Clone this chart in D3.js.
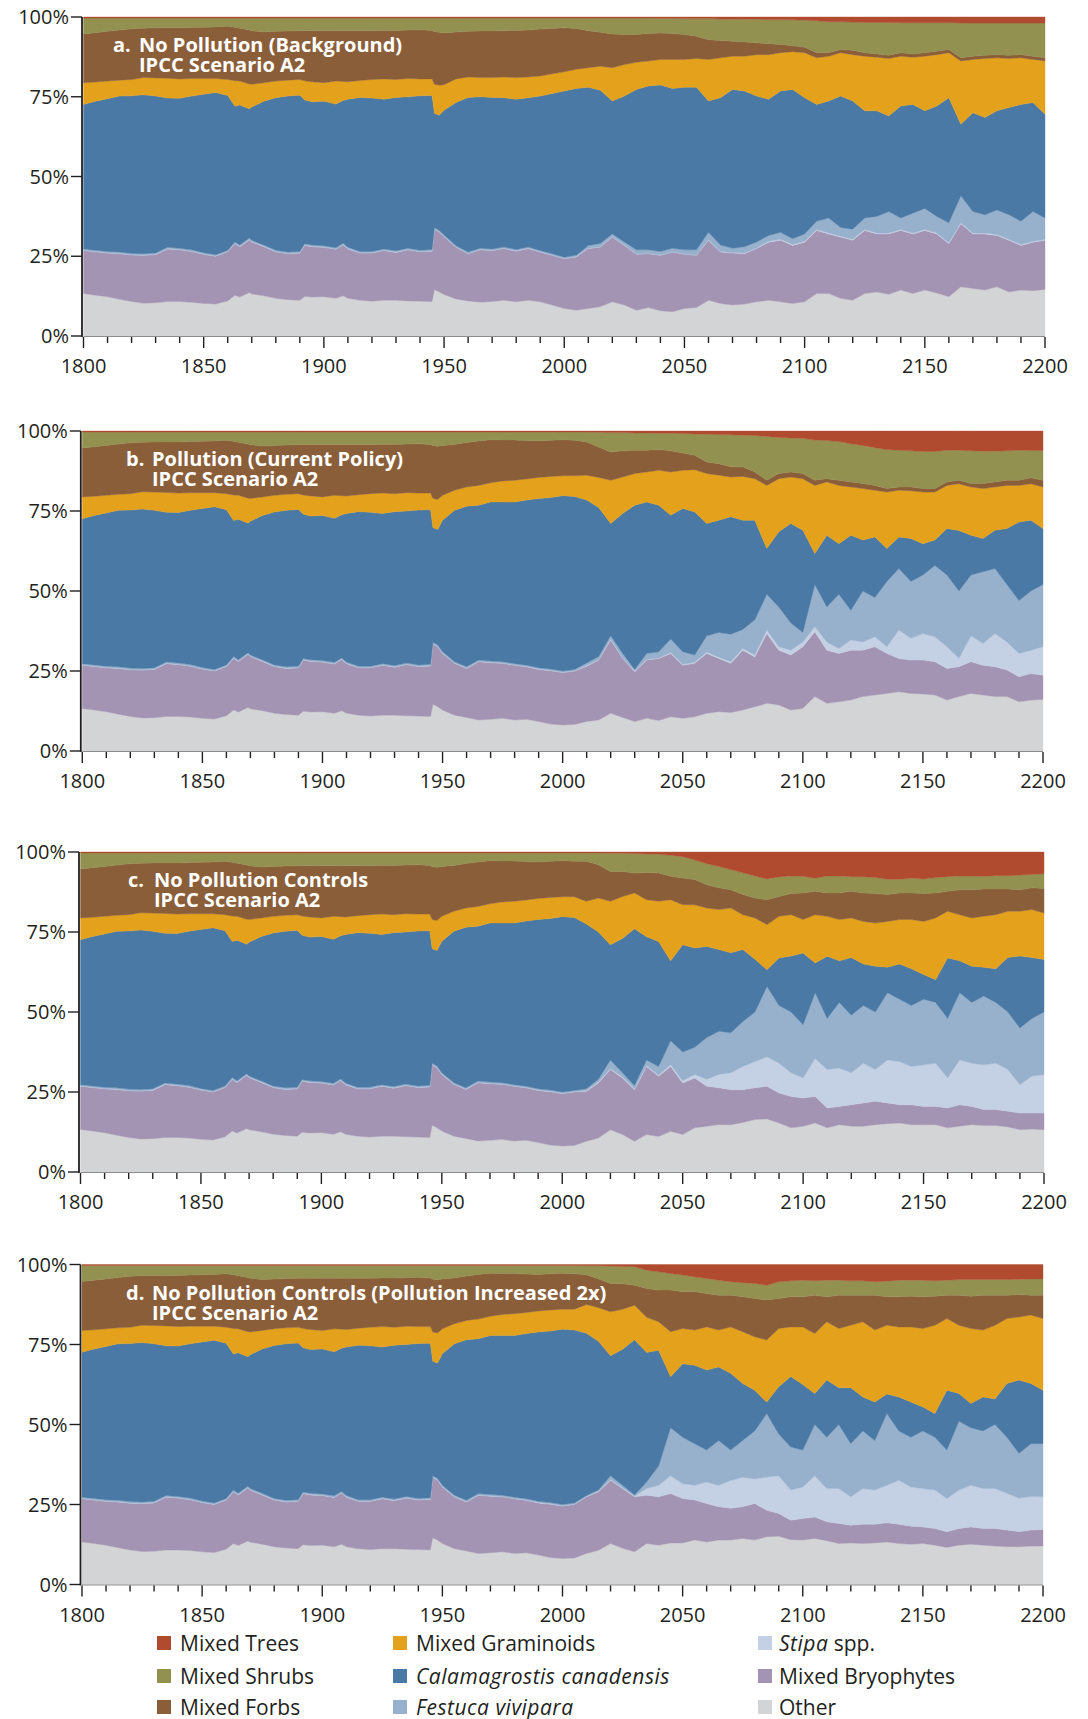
<!DOCTYPE html>
<html><head><meta charset="utf-8">
<script src="https://cdn.jsdelivr.net/npm/d3@7"></script>
<style>
body{margin:0;background:#fff}
svg{display:block}
text{font-family:"Open Sans",sans-serif;fill:#231f20}
</style>
</head><body>
<svg id="chart" width="1088" height="1719"></svg>
<script>
// ---------- series (bottom to top of the stack) ----------
const seriesKeys = ["Other","Mixed Bryophytes","Stipa spp.","Festuca vivipara","Calamagrostis canadensis","Mixed Graminoids","Mixed Forbs","Mixed Shrubs","Mixed Trees"];
const seriesColors = ["#d3d4d6","#a394b4","#c4d0e3","#97b1cd","#4a79a5","#e3a11c","#8b5e3a","#939150","#b04b30"];

// values are cumulative upper edges (%) of each layer; Mixed Trees fills up to 100%
// ---------- shared history 1800-1948 (all panels) ----------
const histYears = [1800,1805,1810,1815,1820,1825,1830,1835,1840,1845,1850,1855,1860,1863,1865,1869,1870,1875,1880,1885,1890,1892,1895,1900,1905,1908,1910,1915,1920,1925,1930,1935,1940,1945,1946,1948];
const histOther = [13.3,12.8,12.3,11.5,10.8,10.3,10.4,10.8,10.8,10.6,10.2,10.0,11.0,12.8,12.2,13.6,13.2,12.6,11.8,11.4,11.2,12.4,12.2,12.3,11.8,12.6,11.8,11.2,10.9,11.2,11.2,11.0,10.9,10.8,14.6,13.8];
const histBryo = [26.8,26.4,26.0,25.8,25.4,25.3,25.5,27.3,27.0,26.5,25.6,25.0,26.4,29.0,28.0,30.2,29.5,28.0,26.4,25.8,26.0,28.4,28.0,27.8,27.2,28.6,27.3,26.0,26.0,26.8,26.2,27.0,26.4,26.6,33.5,32.6];
const histStipa = [26.9,26.5,26.1,25.9,25.5,25.4,25.6,27.4,27.1,26.6,25.7,25.1,26.5,29.1,28.1,30.3,29.6,28.1,26.5,25.9,26.1,28.5,28.1,27.9,27.3,28.7,27.4,26.1,26.1,26.9,26.3,27.1,26.5,26.7,33.6,32.7];
const histFest = [27.3,26.9,26.5,26.3,25.9,25.8,26.0,27.8,27.5,27.0,26.1,25.5,26.9,29.5,28.5,30.7,30.0,28.5,26.9,26.3,26.5,28.9,28.5,28.3,27.7,29.1,27.8,26.5,26.5,27.3,26.7,27.5,26.9,27.1,34.0,33.1];
const histCalam = [72.6,73.6,74.4,75.2,75.3,75.6,75.2,74.6,74.5,75.2,75.8,76.3,75.4,72.0,72.4,71.2,71.8,73.6,74.7,75.2,75.5,74.0,73.4,73.6,72.7,73.8,74.2,74.8,74.6,74.2,74.8,75.0,75.3,75.4,69.8,69.2];
const histGram = [79.4,79.6,79.9,80.2,80.4,81.0,80.9,80.8,80.6,80.7,80.7,80.7,80.4,80.0,79.9,79.0,78.9,79.4,79.9,80.2,80.4,80.0,79.7,79.4,79.9,79.8,79.7,80.1,80.4,80.6,80.4,80.7,80.6,80.6,78.9,78.6];
const histForbs = [94.7,95.1,95.5,95.9,96.3,96.5,96.6,96.6,96.6,96.7,96.8,96.9,97.1,96.8,96.5,95.9,95.7,95.3,95.5,95.6,95.7,95.7,95.7,95.7,95.7,95.7,95.7,95.7,95.7,95.8,95.8,95.9,96.0,95.8,95.4,95.2];
const histShrubs = [99.7,99.7,99.7,99.7,99.7,99.7,99.7,99.7,99.7,99.7,99.7,99.7,99.7,99.7,99.7,99.7,99.7,99.7,99.7,99.7,99.7,99.7,99.7,99.7,99.7,99.7,99.7,99.7,99.7,99.7,99.7,99.7,99.7,99.7,99.7,99.7];

// ---------- 1950-2200 ----------
const futYears = [1950,1955,1960,1965,1970,1975,1980,1985,1990,1995,2000,2005,2010,2015,2020,2025,2030,2035,2040,2045,2050,2055,2060,2065,2070,2075,2080,2085,2090,2095,2100,2105,2110,2115,2120,2125,2130,2135,2140,2145,2150,2155,2160,2165,2170,2175,2180,2185,2190,2195,2200];

// panel a (1950-2200)
const aOther = [13.0,11.6,11.0,10.6,10.8,11.2,10.7,11.2,10.7,9.7,8.6,8.1,8.6,9.2,10.7,9.7,8.1,8.9,7.9,7.6,8.6,8.9,11.2,10.2,9.7,10.0,10.7,11.2,10.7,10.2,10.7,13.3,13.3,11.8,11.2,13.3,13.8,13.1,14.4,13.3,14.4,13.5,12.3,15.4,14.9,14.4,15.4,13.8,14.4,14.2,14.6];
const aBryo = [31.2,27.8,25.8,27.0,26.8,27.4,26.6,27.4,26.3,25.3,24.2,24.8,27.4,27.9,31.0,28.4,25.6,25.8,25.3,26.3,25.6,25.3,30.0,26.3,26.0,25.8,27.4,29.4,30.0,28.4,29.4,33.1,32.0,31.0,30.0,33.1,32.0,32.0,33.1,32.0,33.1,32.0,28.9,35.2,32.0,32.0,31.5,30.0,28.4,29.4,30.0];
const aStipa = [31.3,27.9,25.9,27.1,26.9,27.5,26.7,27.5,26.4,25.4,24.3,24.9,27.5,28.0,31.1,28.5,25.7,25.9,25.4,26.4,25.7,25.4,30.2,26.5,26.2,26.0,27.6,29.7,30.3,28.7,29.7,33.4,32.3,31.3,30.3,33.4,32.3,32.3,33.4,32.3,33.4,32.3,29.2,35.5,32.3,32.3,31.8,30.3,28.7,29.7,30.3];
const aFest = [31.7,28.3,26.3,27.5,27.3,27.9,27.1,27.9,26.8,25.8,24.7,25.3,28.4,29.0,32.0,29.5,27.0,27.0,26.5,27.5,27.0,27.0,32.5,28.5,27.5,28.0,29.5,31.5,32.5,30.5,32.0,36.0,37.0,34.0,33.5,37.0,37.5,39.0,37.0,38.5,40.0,37.5,35.5,44.0,39.0,38.0,39.5,38.0,36.0,39.0,37.0];
const aCalam = [70.8,73.2,74.8,75.0,74.8,74.7,74.2,74.7,75.2,76.0,76.8,77.6,78.0,77.0,73.7,75.2,77.3,78.4,78.7,77.6,78.0,78.0,73.7,74.7,77.3,76.8,75.2,74.2,76.8,77.3,74.7,72.6,73.7,75.2,73.7,70.6,70.6,69.0,72.1,72.6,70.6,72.1,74.7,66.4,70.0,68.5,70.6,71.6,72.6,73.2,69.5];
const aGram = [78.8,80.6,81.2,81.0,81.0,81.2,81.0,81.2,81.5,82.2,82.8,83.6,84.1,84.6,84.1,85.1,85.8,86.2,86.7,86.7,86.7,87.0,86.7,87.2,87.7,87.7,88.2,88.2,88.8,89.1,88.8,87.2,87.7,88.8,88.2,87.7,87.4,87.0,87.7,87.4,87.7,88.2,88.8,86.2,86.7,87.0,87.2,87.0,87.2,86.7,86.2];
const aForbs = [95.0,95.3,95.5,95.6,95.6,95.7,95.8,95.9,96.2,96.4,96.6,96.4,95.7,95.2,94.7,94.5,94.5,94.8,95.0,94.8,94.5,94.0,92.9,92.6,92.4,92.2,91.9,91.6,91.4,91.0,90.5,88.8,88.8,89.8,89.6,88.8,88.4,88.0,88.8,88.4,88.8,89.3,89.8,87.2,87.7,88.0,88.2,88.0,88.2,87.7,87.2];
const aShrubs = [99.7,99.7,99.7,99.7,99.7,99.7,99.7,99.7,99.7,99.7,99.7,99.7,99.7,99.7,99.7,99.7,99.7,99.7,99.6,99.6,99.5,99.5,99.5,99.4,99.4,99.3,99.3,99.2,99.2,99.1,99.0,98.8,98.5,98.5,98.4,98.3,98.3,98.3,98.2,98.2,98.2,98.2,98.2,98.1,98.1,98.1,98.1,98.1,98.1,98.1,98.1];

// panels b, c, d share 1950-2005
const bcdOther = [12.8,11.2,10.5,9.7,9.9,10.2,9.7,9.9,9.2,8.4,8.1,8.3];
const bcdBryo = [30.5,27.4,25.8,27.9,27.6,27.4,26.8,26.3,25.5,25.1,24.5,25.0];
const bcdStipa = [30.6,27.5,25.9,28.0,27.7,27.5,26.9,26.4,25.6,25.2,24.6,25.1];
const bcdFest = [31.0,27.9,26.3,28.4,28.1,27.9,27.3,26.8,26.0,25.6,25.0,25.5];
const bcdCalam = [72.1,75.2,76.5,76.8,77.8,77.8,77.8,78.4,78.9,79.2,79.8,79.5];
const bcdGram = [79.9,81.5,82.5,83.0,83.8,84.4,84.6,85.0,85.5,85.8,86.0,86.0];
const bcdForbs = [95.5,95.8,96.4,96.9,97.3,97.2,97.2,97.0,96.9,97.1,97.3,97.1];
const bcdShrubs = [99.7,99.7,99.7,99.7,99.7,99.7,99.7,99.7,99.7,99.7,99.7,99.7];

// panel b (2010-2200)
const bOther = [9.2,9.7,11.8,10.5,9.2,10.2,9.5,10.7,10.2,10.7,11.8,12.3,12.0,12.8,13.8,14.9,14.4,12.8,13.3,17.0,14.9,15.4,15.9,17.0,17.5,18.0,18.5,18.0,17.8,17.5,15.9,17.0,18.0,17.5,17.0,17.0,15.4,15.9,16.1];
const bBryo = [26.5,28.4,34.7,28.9,24.8,28.4,28.9,30.5,26.8,27.4,30.5,28.9,27.4,31.5,29.4,36.7,31.5,30.0,32.6,37.3,31.5,30.5,31.5,31.5,32.6,30.5,28.9,28.4,28.4,27.9,25.8,26.3,27.9,26.8,26.3,25.3,23.2,24.2,23.7];
const bStipa = [26.7,28.6,34.9,29.1,25.0,28.6,29.1,30.8,27.1,27.7,30.9,29.3,27.9,32.0,30.0,37.8,32.6,31.5,34.1,38.8,34.1,32.0,34.7,34.1,35.7,32.6,37.8,35.2,36.7,35.7,32.6,29.0,36.0,33.6,36.7,34.1,30.5,31.5,32.6];
const bFest = [27.5,29.5,36.0,30.5,25.5,30.5,31.0,35.0,31.0,30.0,36.0,37.0,36.5,38.0,41.0,49.0,45.0,40.0,37.0,52.0,45.0,49.0,44.0,50.0,48.0,53.0,57.0,53.0,55.0,58.0,55.0,50.0,55.0,56.0,57.0,52.0,47.0,50.0,52.0];
const bCalam = [78.4,76.1,71.1,74.2,76.8,77.8,76.8,73.7,75.8,74.7,71.1,72.1,73.2,72.1,72.1,63.3,68.5,71.1,69.0,61.7,67.4,64.8,67.4,65.9,66.9,63.3,66.9,66.4,64.8,65.9,69.5,68.9,67.4,66.4,69.0,69.5,71.6,72.1,69.5];
const bGram = [86.2,85.5,84.6,85.6,86.7,87.2,87.7,87.2,87.7,87.9,86.7,86.2,85.6,85.8,85.1,83.0,85.1,85.6,85.1,83.0,84.1,83.0,82.5,82.0,81.5,80.9,81.5,81.3,80.9,80.9,83.0,83.5,82.5,82.0,82.5,83.0,83.0,83.5,82.5];
const bForbs = [96.6,95.0,93.4,93.8,94.0,94.0,94.2,93.8,93.1,92.4,90.3,89.8,88.8,88.8,87.2,84.6,86.7,87.2,86.7,84.6,85.1,84.6,84.1,83.6,83.0,82.0,82.5,82.5,82.0,82.0,84.1,84.6,83.6,83.6,84.1,84.6,84.6,85.4,84.6];
const bShrubs = [99.7,99.6,99.5,99.5,99.4,99.4,99.3,99.3,99.2,99.1,99.0,98.9,98.8,98.7,98.6,98.3,98.0,97.8,97.7,97.2,97.0,96.7,96.0,95.5,94.8,94.2,94.0,93.8,93.6,93.6,94.0,94.0,93.8,93.7,93.7,93.8,94.0,93.9,93.9];

// panel c (2010-2200)
const cOther = [9.6,10.6,13.2,11.7,9.6,11.7,11.1,12.7,11.7,13.8,14.3,14.8,14.8,15.5,16.4,16.6,15.3,13.8,14.3,15.3,13.8,14.8,14.3,14.3,14.8,15.1,15.3,14.8,14.8,14.8,13.8,14.3,14.8,14.5,14.5,14.1,13.2,13.4,13.2];
const cBryo = [25.2,27.8,32.0,29.4,25.7,33.0,29.9,33.0,27.8,29.4,26.8,26.3,25.7,25.7,26.3,26.8,24.7,23.6,23.1,23.6,20.0,20.5,21.0,21.6,22.1,21.6,21.0,21.0,20.5,20.5,20.0,21.0,20.5,19.5,19.5,19.0,18.4,18.4,18.4];
const cStipa = [25.5,28.1,32.3,29.7,26.0,33.3,30.2,33.5,28.5,30.5,29.0,30.5,31.0,33.0,34.5,36.0,34.0,31.0,29.4,35.5,32.0,32.5,31.0,34.0,32.0,35.0,34.5,33.0,33.5,34.0,29.4,35.0,34.0,33.5,34.0,32.0,27.3,30.0,30.4];
const cFest = [26.0,29.0,35.0,31.0,27.0,35.0,33.0,41.0,37.5,39.0,42.0,44.0,43.5,47.0,50.0,58.0,52.0,50.0,46.0,56.0,48.0,53.0,49.0,52.0,50.0,56.0,54.0,52.0,54.0,53.0,48.0,56.0,53.0,55.0,53.0,50.0,45.0,48.0,50.0];
const cCalam = [77.5,75.0,71.0,73.0,76.0,73.5,72.0,66.0,71.0,70.0,70.5,69.5,68.5,69.5,66.5,63.2,66.9,67.5,68.4,65.3,67.4,66.0,67.0,65.0,64.3,64.0,65.0,63.5,61.7,60.1,66.9,66.0,64.3,64.0,63.5,67.0,67.5,67.0,66.4];
const cGram = [84.6,85.6,84.6,86.1,87.2,85.1,84.6,85.1,83.5,83.5,82.5,82.0,82.5,80.4,79.4,77.3,79.9,80.4,78.9,80.4,79.9,78.9,79.4,78.3,77.8,78.3,78.9,78.9,78.3,79.4,81.5,80.4,79.4,79.9,80.4,81.5,81.5,82.0,80.9];
const cForbs = [97.1,96.0,93.9,93.9,93.4,93.6,93.4,92.4,91.9,91.4,89.8,88.8,88.2,86.7,85.6,85.1,86.1,87.0,87.2,87.7,87.2,87.2,87.7,87.2,87.0,86.7,87.2,87.2,87.0,87.2,87.7,88.2,88.2,88.4,88.4,88.4,88.2,88.8,88.6];
const cShrubs = [99.7,99.7,99.6,99.6,99.5,99.4,99.3,99.0,98.5,97.5,96.3,95.5,94.5,93.5,92.5,91.6,92.2,92.5,92.4,91.8,92.5,92.5,92.3,92.3,92.0,91.5,91.5,91.8,91.6,92.0,92.3,92.5,92.5,92.4,92.6,92.6,92.8,93.0,93.2];

// panel d (2010-2200)
const dOther = [9.7,10.7,12.8,11.3,10.2,12.8,12.3,13.0,13.0,13.9,13.3,13.9,13.9,14.4,13.9,14.9,15.1,14.0,13.9,14.4,13.7,12.8,13.0,12.8,13.0,13.3,12.8,12.6,12.8,12.3,11.6,12.3,12.6,12.3,12.0,11.8,11.8,12.0,12.0];
const dBryo = [27.4,29.0,32.6,30.0,27.4,27.9,27.4,28.4,26.9,26.4,25.3,24.3,23.8,24.3,25.3,23.2,22.2,20.1,20.6,21.1,19.6,19.1,18.5,18.8,18.8,19.3,18.8,18.2,18.0,17.5,16.5,17.5,18.0,17.5,17.5,17.0,16.5,17.0,17.2];
const dStipa = [27.6,29.2,32.8,30.2,27.6,30.0,31.0,34.0,31.5,31.0,32.0,31.0,32.5,33.5,33.0,33.6,34.0,29.5,30.5,34.0,30.0,30.0,27.4,30.0,29.5,31.0,32.6,30.5,30.0,29.5,26.9,29.5,31.0,30.0,30.0,28.5,27.0,27.5,27.4];
const dFest = [27.8,29.5,34.0,31.0,28.0,32.0,37.0,49.0,46.0,44.0,42.0,45.0,42.0,45.0,48.0,53.4,47.0,43.0,42.0,50.0,46.0,50.0,44.0,48.0,45.0,53.4,48.0,46.0,48.0,46.0,42.0,51.0,49.0,48.0,50.0,46.0,41.0,44.0,44.0];
const dCalam = [78.5,76.0,71.5,73.5,76.5,72.5,73.2,64.9,69.0,68.5,67.0,68.0,66.0,62.8,60.7,57.0,61.8,65.0,62.5,59.7,63.9,61.5,61.5,58.6,57.0,59.5,58.6,57.0,55.5,53.4,60.7,59.7,56.6,58.6,58.0,62.8,63.9,62.8,60.7];
const dGram = [87.5,86.5,85.2,86.0,87.3,83.5,82.1,79.0,80.0,79.5,80.5,79.5,80.5,79.0,77.4,76.4,80.0,80.5,80.5,78.4,82.1,80.0,81.0,82.1,79.5,81.0,80.5,80.5,80.0,81.0,83.1,81.0,80.0,79.5,81.0,83.1,83.6,84.2,83.1];
const dForbs = [96.8,95.5,94.1,94.0,93.5,92.5,92.0,92.0,91.5,91.5,90.9,90.4,90.4,89.9,89.4,88.9,89.4,89.9,89.9,90.4,89.9,90.4,90.4,90.4,90.4,89.9,89.9,90.1,89.9,90.1,90.4,90.4,90.1,90.4,90.4,90.4,90.6,90.4,90.4];
const dShrubs = [99.6,99.6,99.5,99.4,99.3,98.2,97.7,97.2,96.7,96.2,95.6,95.1,94.6,94.3,94.1,93.5,94.6,94.9,95.1,94.9,95.1,95.1,94.9,94.9,94.6,94.8,95.1,95.1,95.1,94.9,95.1,95.3,95.3,95.3,95.3,95.3,95.4,95.5,95.5];

// ---------- labels ----------
const panelLetters = ["a.","b.","c.","d."];
const panelTitles = ["No Pollution (Background)","Pollution (Current Policy)","No Pollution Controls","No Pollution Controls (Pollution Increased 2x)"];
const panelSubtitle = "IPCC Scenario A2";
const yTickValues = [0,25,50,75,100];
const xMajorTicks = [1800,1850,1900,1950,2000,2050,2100,2150,2200];
const xMinorTicks = [1800,1810,1820,1830,1840,1850,1860,1870,1880,1890,1900,1910,1920,1930,1940,1950,1960,1970,1980,1990,2000,2010,2020,2030,2040,2050,2060,2070,2080,2090,2100,2110,2120,2130,2140,2150,2160,2170,2180,2190,2200];

// ---------- assemble ----------
const allYears = histYears.concat(futYears);
const panelTops = [
  [aOther,aBryo,aStipa,aFest,aCalam,aGram,aForbs,aShrubs],
  [bcdOther.concat(bOther),bcdBryo.concat(bBryo),bcdStipa.concat(bStipa),bcdFest.concat(bFest),bcdCalam.concat(bCalam),bcdGram.concat(bGram),bcdForbs.concat(bForbs),bcdShrubs.concat(bShrubs)],
  [bcdOther.concat(cOther),bcdBryo.concat(cBryo),bcdStipa.concat(cStipa),bcdFest.concat(cFest),bcdCalam.concat(cCalam),bcdGram.concat(cGram),bcdForbs.concat(cForbs),bcdShrubs.concat(cShrubs)],
  [bcdOther.concat(dOther),bcdBryo.concat(dBryo),bcdStipa.concat(dStipa),bcdFest.concat(dFest),bcdCalam.concat(dCalam),bcdGram.concat(dGram),bcdForbs.concat(dForbs),bcdShrubs.concat(dShrubs)]
];
const histTops = [histOther,histBryo,histStipa,histFest,histCalam,histGram,histForbs,histShrubs];

function buildRows(fut){
  const tops = histTops.map((h,k)=>h.concat(fut[k]));
  return allYears.map((yr,i)=>{
    const r = {year:yr};
    let prev = 0;
    for(let k=0;k<8;k++){
      const t = Math.max(prev, tops[k][i]);
      r[seriesKeys[k]] = t - prev;
      prev = t;
    }
    r[seriesKeys[8]] = Math.max(0, 100 - prev);
    return r;
  });
}

// ---------- layout ----------
const layouts = [
  {x0:83.5,x1:1045,yTop:17,yBot:336,lx:113,mx:139,tb:52},
  {x0:82.3,x1:1043,yTop:431,yBot:751,lx:126,mx:152,tb:466},
  {x0:80.5,x1:1044,yTop:852,yBot:1172,lx:128,mx:154,tb:887},
  {x0:82,x1:1043,yTop:1264.5,yBot:1584.5,lx:126,mx:152,tb:1300}
];
const ink = "#231f20";
const svg = d3.select("#chart");
const stack = d3.stack().keys(seriesKeys);

layouts.forEach((L,p)=>{
  const g = svg.append("g");
  const x = d3.scaleLinear().domain([1800,2200]).range([L.x0,L.x1]);
  const y = d3.scaleLinear().domain([0,100]).range([L.yBot,L.yTop]);
  const series = stack(buildRows(panelTops[p]));
  const area = d3.area().x(d=>x(d.data.year)).y0(d=>y(d[0])).y1(d=>y(d[1]));
  g.selectAll("path.layer").data(series).join("path")
    .attr("class","layer")
    .attr("d",area)
    .attr("fill",(d,i)=>seriesColors[i])
    .attr("stroke",(d,i)=>seriesColors[i])
    .attr("stroke-width",0.4);

  // bottom line
  g.append("line").attr("x1",x(1800)).attr("x2",x(2200)).attr("y1",y(0)+0.5).attr("y2",y(0)+0.5)
    .attr("stroke","#8c8c8c").attr("stroke-width",1);
  // y axis
  const ax = x(1800)-1.5;
  g.append("line").attr("x1",ax).attr("x2",ax).attr("y1",y(100)).attr("y2",y(0)+1)
    .attr("stroke",ink).attr("stroke-width",1.8);
  g.selectAll("line.yt").data(yTickValues).join("line").attr("class","yt")
    .attr("x1",ax-11).attr("x2",ax).attr("y1",d=>y(d)).attr("y2",d=>y(d))
    .attr("stroke",ink).attr("stroke-width",1.4);
  g.selectAll("text.yl").data(yTickValues).join("text").attr("class","yl")
    .attr("x",ax-13).attr("y",d=>y(d)).attr("dy","0.36em")
    .attr("text-anchor","end").attr("font-size",20).text(d=>d+"%");
  // x ticks
  g.selectAll("line.xm").data(xMinorTicks).join("line").attr("class","xm")
    .attr("x1",d=>x(d)).attr("x2",d=>x(d)).attr("y1",y(0)+1).attr("y2",d=>y(0)+(d%50===0?12:7))
    .attr("stroke",ink).attr("stroke-width",1.4);
  g.selectAll("text.xl").data(xMajorTicks).join("text").attr("class","xl")
    .attr("x",d=>x(d)).attr("y",y(0)+37)
    .attr("text-anchor","middle").attr("font-size",20).text(d=>d);

  // title: one text element, two lines
  const t = g.append("text").attr("font-size",20).style("font-weight","700").style("fill","#fff");
  t.append("tspan").attr("x",L.lx).attr("y",L.tb).text(panelLetters[p]);
  t.append("tspan").attr("x",L.mx).attr("y",L.tb).text(panelTitles[p]);
  t.append("tspan").attr("x",L.mx).attr("y",L.tb+20).text(panelSubtitle);
});

// ---------- legend ----------
const legendOrder = [8,7,6,5,4,3,2,1,0];
const legendCols = [{sx:157,tx:180},{sx:393,tx:416},{sx:758,tx:779}];
const legendRows = [1636,1669,1700];
const italicParts = {"Stipa spp.":["Stipa"," spp."],"Calamagrostis canadensis":["Calamagrostis canadensis",""],"Festuca vivipara":["Festuca vivipara",""]};
const lg = svg.append("g");
legendOrder.forEach((si,j)=>{
  const c = legendCols[Math.floor(j/3)], r = legendRows[j%3];
  lg.append("rect").attr("x",c.sx).attr("y",r).attr("width",14).attr("height",14).attr("fill",seriesColors[si]);
  const tx = lg.append("text").attr("x",c.tx).attr("y",r+14.5).attr("font-size",21);
  const name = seriesKeys[si];
  if(italicParts[name]){
    tx.append("tspan").style("font-style","italic").attr("letter-spacing",0.5).text(italicParts[name][0]);
    if(italicParts[name][1]) tx.append("tspan").text(italicParts[name][1]);
  } else tx.text(name);
});
</script>
</body></html>
